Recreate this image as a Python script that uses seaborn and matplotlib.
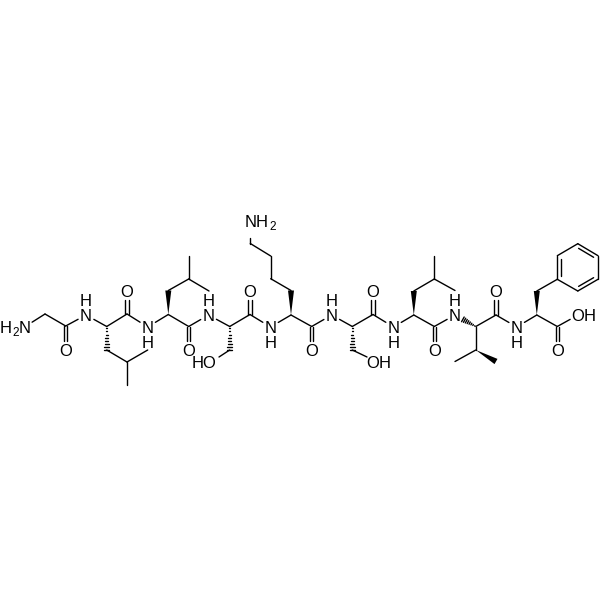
import numpy as np
import pandas as pd
import matplotlib
matplotlib.use("Agg")
import matplotlib.pyplot as plt
import seaborn as sns

# atoms in pixels (name, x, y)
atom_names = ["N1", "CA0", "C0", "O0", "N2", "CA1", "C1", "O1", "N3", "CA2", "C2", "O2",
              "N4", "CA3", "C3", "O3", "N5", "CA4", "C4", "O4", "N6", "CA5", "C5", "O5",
              "N7", "CA6", "C6", "O6", "N8", "CA7", "C7", "O7", "N9", "CA8", "C8", "O8", "OH",
              "B1", "G1", "D11", "D12",
              "B2", "G2", "D21", "D22",
              "B3", "OG3",
              "B4", "C4E", "C4D", "C4C", "NZ",
              "B5", "OG5",
              "B6", "G6", "D61", "D62",
              "B7", "G71", "G72",
              "B8", "R1", "R2", "R3", "R4", "R5", "R6"]
atom_x = [24.5, 45, 65.7, 65.7, 86, 106.7, 127, 127, 147.7, 168.3, 188.7, 188.7,
          208.5, 229.7, 250, 250, 270.5, 291, 311.7, 311.7, 331.7, 352.3, 373, 373,
          393.5, 413.8, 434.3, 434.3, 455, 475.8, 496, 496, 516.7, 536.8, 557.3, 557.3, 578,
          106.7, 127, 147.7, 127,
          168.3, 188.7, 188.7, 209,
          229.7, 219,
          291, 270.7, 270.7, 250.3, 250.3,
          352.3, 367,
          413.8, 434.3, 434.3, 455,
          475.8, 455, 496,
          536.8, 557.3, 557.3, 577.8, 598, 598, 577.8]
atom_y = [327, 314, 326, 350, 315, 326.5, 314, 291, 327, 314.5, 326.5, 350,
          315, 326.5, 314.5, 291, 327, 315, 326.5, 350, 315, 326.5, 314.5, 291,
          327, 315, 326.5, 350, 315, 326.5, 315, 291, 327, 315, 326.5, 350, 315,
          350, 362, 350, 385,
          290.5, 279, 255.5, 291,
          350, 357,
          290.5, 278.7, 256, 243.5, 229,
          350, 357,
          291, 279, 255.7, 290.5,
          350, 361.5, 361.5,
          291, 279.3, 255.7, 243.7, 255.7, 279.3, 291]

plain_bonds = [("N1", "CA0"), ("CA0", "C0"), ("C0", "N2"), ("N2", "CA1"), ("CA1", "C1"), ("C1", "N3"),
               ("N3", "CA2"), ("CA2", "C2"), ("C2", "N4"), ("N4", "CA3"), ("CA3", "C3"), ("C3", "N5"),
               ("N5", "CA4"), ("CA4", "C4"), ("C4", "N6"), ("N6", "CA5"), ("CA5", "C5"), ("C5", "N7"),
               ("N7", "CA6"), ("CA6", "C6"), ("C6", "N8"), ("CA7", "C7"), ("C7", "N9"),
               ("N9", "CA8"), ("CA8", "C8"), ("C8", "OH"),
               ("B1", "G1"), ("G1", "D11"), ("G1", "D12"),
               ("B2", "G2"), ("G2", "D21"), ("G2", "D22"),
               ("B3", "OG3"), ("B5", "OG5"),
               ("B4", "C4E"), ("C4E", "C4D"), ("C4D", "C4C"), ("C4C", "NZ"),
               ("B6", "G6"), ("G6", "D61"), ("G6", "D62"),
               ("CA7", "B7"), ("B7", "G71"),
               ("B8", "R1"), ("R1", "R2"), ("R2", "R3"), ("R3", "R4"), ("R4", "R5"), ("R5", "R6"), ("R6", "R1")]
carbonyls = [("C0", "O0"), ("C1", "O1"), ("C2", "O2"), ("C3", "O3"), ("C4", "O4"),
             ("C5", "O5"), ("C6", "O6"), ("C7", "O7"), ("C8", "O8")]
ring_doubles = [("R1", "R2"), ("R3", "R4"), ("R5", "R6")]
wedges = [("CA2", "B2"), ("CA4", "B4"), ("CA6", "B6"), ("CA8", "B8"), ("B7", "G72")]
hashes = [("CA1", "B1"), ("CA3", "B3"), ("CA5", "B5"), ("CA7", "N8")]

# letters that bonds stop short of
hetero = ["N1", "N2", "N3", "N4", "N5", "N6", "N7", "N8", "N9", "NZ",
          "O0", "O1", "O2", "O3", "O4", "O5", "O6", "O7", "O8", "OH"]

label_text = ["H", "N", "O", "O", "O", "O", "O", "O", "O", "O", "O", "O",
              "N", "H", "N", "H", "N", "H", "N", "H", "N", "H", "N", "H", "N", "H", "N", "H",
              "N", "H", "H", "O", "O", "H", "H"]
label_x = [6, 24.5, 65.7, 127, 188.7, 250, 311.7, 373, 434.3, 496, 557.3, 578,
           86, 86, 147.7, 147.7, 208.5, 208.5, 270.5, 270.5, 331.7, 331.7, 393.5, 393.5, 455, 455, 516.7, 516.7,
           250.3, 262, 198, 209, 373, 385, 590]
label_y = [327, 327, 350, 291, 350, 291, 350, 291, 350, 291, 350, 315,
           315, 300.5, 327, 341.5, 315, 300.5, 327, 341.5, 315, 300.5, 327, 341.5, 315, 300.5, 327, 341.5,
           221, 221, 362, 362, 362, 362, 315]
sub_text = ["2", "2"]
sub_x = [15.5, 272.5]
sub_y = [331.5, 225]

pos = dict(zip(atom_names, zip(atom_x, atom_y)))
LW = 1.0
GAP = 9.0


def trimmed(a, b):
    p, q = np.array(pos[a], float), np.array(pos[b], float)
    d = (q - p) / np.linalg.norm(q - p)
    if a in hetero:
        p = p + d * GAP
    if b in hetero:
        q = q - d * GAP
    return p, q, d


rows = []


def add_segment(p, q):
    bond = len(rows) // 2
    rows.append({"bond": bond, "x": p[0], "y": p[1]})
    rows.append({"bond": bond, "x": q[0], "y": q[1]})


for a, b in plain_bonds:
    p, q, _ = trimmed(a, b)
    add_segment(p, q)

for a, b in carbonyls:
    p, q, d = trimmed(a, b)
    n = np.array([-d[1], d[0]])
    add_segment(p + n * 1.7, q + n * 1.7)
    add_segment(p - n * 1.7, q - n * 1.7)

ring_center = np.mean([pos[k] for k in ["R1", "R2", "R3", "R4", "R5", "R6"]], axis=0)
for a, b in ring_doubles:
    p, q, d = trimmed(a, b)
    n = ring_center - (p + q) / 2
    n = n / np.linalg.norm(n)
    add_segment(p + d * 3 + n * 3.6, q - d * 3 + n * 3.6)

# hash marks are short cross strokes, narrow end on the first atom
for a, b in hashes:
    p, q, d = trimmed(a, b)
    n = np.array([-d[1], d[0]])
    for t in np.linspace(0.08, 1.0, 8):
        c = p + (q - p) * t
        add_segment(c - n * 2.7 * t, c + n * 2.7 * t)

bonds = pd.DataFrame(rows)

sns.set_theme(style="white")
plt.rcParams["font.family"] = ["Liberation Sans", "DejaVu Sans"]

fig = plt.figure(figsize=(6, 6), dpi=100, facecolor="white")
ax = fig.add_axes([0, 0, 1, 1])
sns.lineplot(data=bonds, x="x", y="y", units="bond", estimator=None, sort=False,
             color="black", linewidth=LW, solid_capstyle="round", legend=False, ax=ax)

for a, b in wedges:
    p, q, d = trimmed(a, b)
    n = np.array([-d[1], d[0]])
    tri = np.array([p, q + n * 3.0, q - n * 3.0])
    ax.fill(tri[:, 0], tri[:, 1], color="black", linewidth=0)

for s, x, y in zip(label_text, label_x, label_y):
    ax.text(x, y, s, ha="center", va="center_baseline", fontsize=12, color="black")
for s, x, y in zip(sub_text, sub_x, sub_y):
    ax.text(x, y, s, ha="center", va="center_baseline", fontsize=8.5, color="black")

ax.set_xlim(0, 600)
ax.set_ylim(600, 0)
ax.set_xlabel("")
ax.set_ylabel("")
ax.axis("off")
fig.savefig("out.png", dpi=100)
